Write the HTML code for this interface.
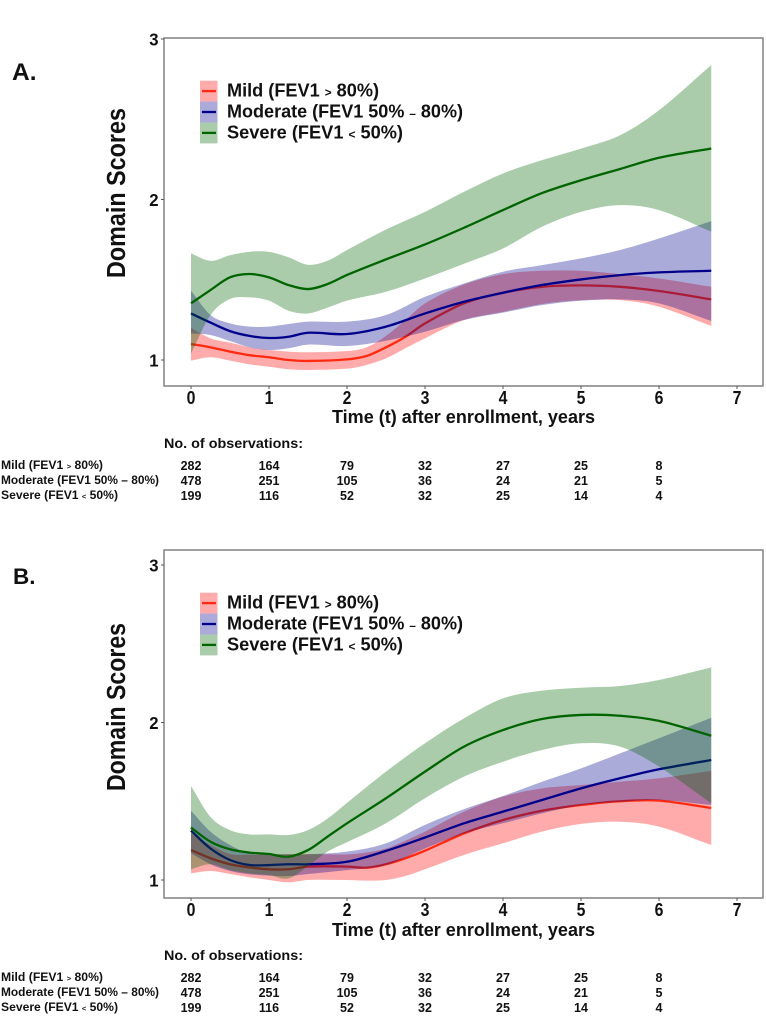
<!DOCTYPE html>
<html lang="en">
<head>
<meta charset="utf-8">
<title>Domain Scores by FEV1 severity</title>
<style>
html,body{margin:0;padding:0;background:#fff;}
svg{display:block;}
text{font-family:"Liberation Sans",Arial,sans-serif;font-weight:bold;fill:#111;}
.small{font-size:0.62em;}
</style>
</head>
<body>
<svg id="chart" width="766" height="1016" viewBox="0 0 766 1016" xmlns="http://www.w3.org/2000/svg">
  <text x="12" y="80" font-size="24.5">A.</text>
  <text x="13" y="584" font-size="22.5">B.</text>

  <text transform="translate(125,193) rotate(-90)" text-anchor="middle" font-size="25.5" textLength="170" lengthAdjust="spacingAndGlyphs">Domain Scores</text>
  <text transform="translate(125,707) rotate(-90)" text-anchor="middle" font-size="25.5" textLength="168" lengthAdjust="spacingAndGlyphs">Domain Scores</text>

  <text x="332" y="423" font-size="18" textLength="263" lengthAdjust="spacingAndGlyphs">Time (t) after enrollment, years</text>
  <text x="332" y="936" font-size="18" textLength="263" lengthAdjust="spacingAndGlyphs">Time (t) after enrollment, years</text>

  <text x="164" y="448" font-size="14" textLength="139" lengthAdjust="spacingAndGlyphs">No. of observations:</text>
  <text x="164" y="960" font-size="14" textLength="139" lengthAdjust="spacingAndGlyphs">No. of observations:</text>

  <g font-size="11.5">
    <text x="1" y="469" textLength="102" lengthAdjust="spacingAndGlyphs">Mild (FEV1 <tspan class="small">&gt;</tspan> 80%)</text>
    <text x="1" y="484" textLength="158" lengthAdjust="spacingAndGlyphs">Moderate (FEV1 50% – 80%)</text>
    <text x="1" y="499" textLength="117" lengthAdjust="spacingAndGlyphs">Severe (FEV1 <tspan class="small">&lt;</tspan> 50%)</text>
  </g>
  <g font-size="11.5">
    <text x="1" y="981" textLength="102" lengthAdjust="spacingAndGlyphs">Mild (FEV1 <tspan class="small">&gt;</tspan> 80%)</text>
    <text x="1" y="996" textLength="158" lengthAdjust="spacingAndGlyphs">Moderate (FEV1 50% – 80%)</text>
    <text x="1" y="1011" textLength="117" lengthAdjust="spacingAndGlyphs">Severe (FEV1 <tspan class="small">&lt;</tspan> 50%)</text>
  </g>
</svg>
<script>
/* Shared category and tick data */
var xTicks = [0, 1, 2, 3, 4, 5, 6, 7];
var yTicks = [1, 2, 3];
var seriesNames = ['mild', 'moderate', 'severe'];
var legendMild = ['Mild (FEV1 ', '>', ' 80%)'];
var legendModerate = ['Moderate (FEV1 50% ', '–', ' 80%)'];
var legendSevere = ['Severe (FEV1 ', '<', ' 50%)'];
var obsMild = [282, 164, 79, 32, 27, 25, 8];
var obsModerate = [478, 251, 105, 36, 24, 21, 5];
var obsSevere = [199, 116, 52, 32, 25, 14, 4];

/* Time grids, years */
var timeMild = [0,.25,.5,.75,1,1.25,1.5,2,2.25,2.5,2.75,3,3.5,4,4.5,5,5.5,6,6.67];
var timeModerate = [0,.25,.5,.75,1,1.25,1.5,2,2.5,3,3.5,4,4.5,5,5.5,6,6.67];
var timeSevere = [0,.25,.5,.75,1,1.25,1.5,1.75,2,2.5,3,3.5,4,4.5,5,5.5,6,6.67];

/* Panel A values */
var aMildMean = [1.10,1.079,1.052,1.03,1.017,1.0,.994,1.004,1.025,1.079,1.145,1.228,1.353,1.419,1.456,1.465,1.456,1.43,1.378];
var aMildUpper = [1.2,1.135,1.108,1.079,1.062,1.052,1.048,1.056,1.079,1.15,1.25,1.353,1.47,1.535,1.556,1.556,1.535,1.508,1.456];
var aMildLower = [.996,1.017,.996,.973,.958,.942,.938,.946,.969,1.01,1.073,1.135,1.249,1.30,1.349,1.373,1.373,1.332,1.212];
var aModerateMean = [1.29,1.233,1.18,1.15,1.137,1.145,1.17,1.162,1.208,1.29,1.363,1.419,1.467,1.502,1.529,1.546,1.556];
var aModerateUpper = [1.432,1.28,1.228,1.208,1.208,1.224,1.239,1.239,1.28,1.394,1.477,1.55,1.591,1.633,1.685,1.757,1.865];
var aModerateLower = [1.166,1.156,1.118,1.079,1.062,1.073,1.096,1.087,1.12,1.176,1.249,1.295,1.342,1.369,1.378,1.353,1.243];
var aSevereMean = [1.353,1.436,1.515,1.536,1.515,1.467,1.442,1.473,1.53,1.627,1.72,1.824,1.934,2.04,2.12,2.19,2.26,2.318];
var aSevereUpper = [1.664,1.618,1.653,1.674,1.674,1.64,1.593,1.618,1.685,1.813,1.923,2.048,2.162,2.245,2.317,2.40,2.556,2.838];
var aSevereLower = [1.04,1.28,1.38,1.39,1.37,1.307,1.29,1.326,1.37,1.425,1.508,1.60,1.695,1.83,1.923,1.965,1.934,1.80];

/* Panel B values */
var bMildMean = [1.19,1.138,1.10,1.08,1.068,1.068,1.085,1.085,1.078,1.10,1.138,1.186,1.296,1.381,1.44,1.476,1.50,1.504,1.457];
var bMildUpper = [1.296,1.222,1.165,1.16,1.163,1.165,1.165,1.163,1.175,1.2,1.25,1.307,1.434,1.529,1.582,1.603,1.624,1.646,1.694];
var bMildLower = [1.042,1.057,1.038,1.017,1.0,.985,1.0,1.0,.996,1.0,1.025,1.068,1.159,1.233,1.307,1.356,1.37,1.339,1.222];
var bModerateMean = [1.313,1.20,1.127,1.095,1.095,1.10,1.10,1.116,1.185,1.27,1.36,1.434,1.508,1.582,1.646,1.703,1.762];
var bModerateUpper = [1.44,1.307,1.222,1.169,1.163,1.163,1.163,1.18,1.233,1.35,1.45,1.533,1.624,1.709,1.804,1.90,2.03];
var bModerateLower = [1.17,1.10,1.057,1.036,1.028,1.025,1.038,1.063,1.095,1.2,1.296,1.36,1.423,1.476,1.497,1.508,1.476];
var bSevereMean = [1.332,1.243,1.195,1.174,1.165,1.148,1.19,1.275,1.36,1.519,1.688,1.847,1.952,2.022,2.048,2.043,2.01,1.916];
var bSevereUpper = [1.597,1.40,1.317,1.29,1.29,1.286,1.317,1.39,1.49,1.688,1.868,2.026,2.153,2.202,2.221,2.232,2.27,2.35];
var bSevereLower = [1.068,1.10,1.063,1.042,1.03,1.01,1.089,1.18,1.24,1.36,1.519,1.656,1.751,1.825,1.868,1.847,1.72,1.487];

var NS = 'http://www.w3.org/2000/svg';
var svg = document.getElementById('chart');

function make(tag, attrs, parent) {
  var el = document.createElementNS(NS, tag);
  for (var k in attrs) el.setAttribute(k, attrs[k]);
  parent.appendChild(el);
  return el;
}

/* Smooth path segments through points using finite-difference tangents */
function curve(xs, ys, first) {
  var n = xs.length, m = [], d = first ? 'M' + xs[0].toFixed(2) + ',' + ys[0].toFixed(2) : 'L' + xs[0].toFixed(2) + ',' + ys[0].toFixed(2);
  for (var i = 0; i < n; i++) {
    if (i === 0) m.push((ys[1] - ys[0]) / (xs[1] - xs[0]));
    else if (i === n - 1) m.push((ys[n - 1] - ys[n - 2]) / (xs[n - 1] - xs[n - 2]));
    else m.push((ys[i + 1] - ys[i - 1]) / (xs[i + 1] - xs[i - 1]));
  }
  for (var j = 0; j < n - 1; j++) {
    var h = (xs[j + 1] - xs[j]) / 3;
    d += 'C' + (xs[j] + h).toFixed(2) + ',' + (ys[j] + m[j] * h).toFixed(2) + ' ' +
         (xs[j + 1] - h).toFixed(2) + ',' + (ys[j + 1] - m[j + 1] * h).toFixed(2) + ' ' +
         xs[j + 1].toFixed(2) + ',' + ys[j + 1].toFixed(2);
  }
  return d;
}

var xScale = function (t) { return 191 + 78 * t; };
var COLORS = { mild: '#ff2a10', moderate: '#00008b', severe: '#006400' };
var FILLS = { mild: '#ff0000', moderate: '#00008b', severe: '#006400' };

function legendText(g, x, y, parts) {
  var t = make('text', { x: x, y: y, 'font-size': 18.5, textLength: parts[3], lengthAdjust: 'spacingAndGlyphs' }, g);
  t.appendChild(document.createTextNode(parts[0]));
  var s = make('tspan', { 'font-size': 12 }, t);
  s.textContent = parts[1];
  t.appendChild(document.createTextNode(parts[2]));
  return t;
}

function drawPanel(key, box, yOne, yUnit, series, legendTop) {
  var yScale = function (v) { return yOne - (v - 1) * yUnit; };
  var g = make('g', {}, svg);
  
  

  series.forEach(function (s, idx) {
    var xs = s.time.map(xScale);
    var up = s.upper.map(yScale);
    var lo = s.lower.map(yScale);
    var ribbon = make('path', {
      d: curve(xs, up, true) + curve(xs.slice().reverse(), lo.slice().reverse(), false) + 'Z',
      fill: FILLS[s.name], 'fill-opacity': 0.33, stroke: 'none'
    }, g);
    
    
    var line = make('path', {
      d: curve(xs, s.mean.map(yScale), true),
      fill: 'none', stroke: COLORS[s.name], 'stroke-width': 2.3
    }, g);
    
    
  });

  var frame = make('rect', { x: box.l, y: box.t, width: box.r - box.l, height: box.b - box.t, fill: 'none', stroke: '#808080', 'stroke-width': 1.5 }, g);
  
  

  xTicks.forEach(function (t) {
    var px = xScale(t);
    var tick = make('line', { x1: px, x2: px, y1: box.b, y2: box.b + 3, stroke: '#555', 'stroke-width': 1 }, g);
    
    
    var lab = make('text', { x: px, y: box.b + 18, 'text-anchor': 'middle', 'font-size': 18, textLength: 8.8, lengthAdjust: 'spacingAndGlyphs' }, g);
    
    
    lab.textContent = t;
  });

  yTicks.forEach(function (v) {
    var py = yScale(v);
    var tick = make('line', { x1: box.l - 3, x2: box.l, y1: py, y2: py, stroke: '#555', 'stroke-width': 1 }, g);
    
    
    var lab = make('text', { x: box.l - 5.5, y: py + 6.5, 'text-anchor': 'end', 'font-size': 17.5, textLength: 9.3, lengthAdjust: 'spacingAndGlyphs' }, g);
    
    
    lab.textContent = v;
  });

  var leg = make('g', {}, g);
  
  
  var rows = [
    legendMild.concat([152]),
    legendModerate.concat([236]),
    legendSevere.concat([176])
  ];
  seriesNames.forEach(function (name, i) {
    var rowY = legendTop + i * 20.9;
    var swatch = make('rect', { x: 200, y: rowY, width: 17.5, height: 20.9, fill: FILLS[name], 'fill-opacity': 0.33 }, leg);
    
    
    var dash = make('line', { x1: 202, x2: 216, y1: rowY + 10.4, y2: rowY + 10.4, stroke: COLORS[name], 'stroke-width': 2.3 }, leg);
    
    
    var label = legendText(leg, 227, rowY + 16, rows[i]);
    
    
  });
}

function drawTable(key, baselines) {
  var g = make('g', {}, svg);
  
  
  [obsMild, obsModerate, obsSevere].forEach(function (row, r) {
    row.forEach(function (val, c) {
      var cell = make('text', { x: 191 + c * 78, y: baselines[r], 'text-anchor': 'middle', 'font-size': 12.5 }, g);
      
      
      cell.textContent = val;
    });
  });
}

drawPanel('a', { l: 164, r: 763, t: 38, b: 386 }, 360, 160.5, [
  { name: 'mild', time: timeMild, mean: aMildMean, upper: aMildUpper, lower: aMildLower },
  { name: 'moderate', time: timeModerate, mean: aModerateMean, upper: aModerateUpper, lower: aModerateLower },
  { name: 'severe', time: timeSevere, mean: aSevereMean, upper: aSevereUpper, lower: aSevereLower }
], 80.7);

drawPanel('b', { l: 164, r: 763, t: 550, b: 898 }, 880, 157.5, [
  { name: 'mild', time: timeMild, mean: bMildMean, upper: bMildUpper, lower: bMildLower },
  { name: 'moderate', time: timeModerate, mean: bModerateMean, upper: bModerateUpper, lower: bModerateLower },
  { name: 'severe', time: timeSevere, mean: bSevereMean, upper: bSevereUpper, lower: bSevereLower }
], 592.7);

drawTable('a', [470, 485, 500]);
drawTable('b', [982, 997, 1012]);
</script>
</body>
</html>
